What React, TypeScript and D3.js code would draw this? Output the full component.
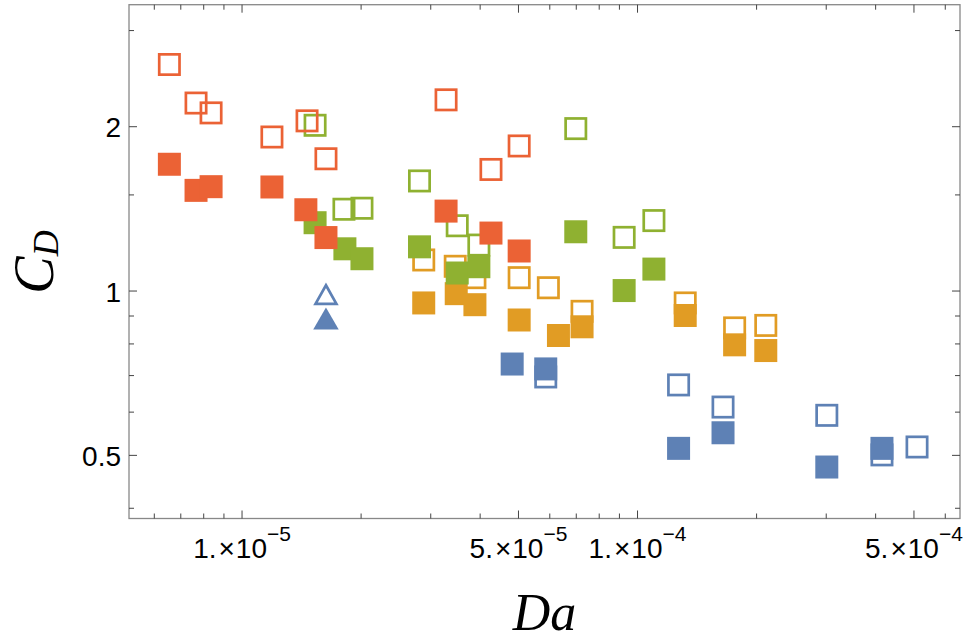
import React, { useRef, useEffect } from "react";
import * as d3 from "d3";

// Da, C_D pairs
const blueOpen = [
  [5.86e-5, 0.696], [1.27e-4, 0.673], [1.645e-4, 0.613],
  [3.01e-4, 0.592], [4.15e-4, 0.501], [5.09e-4, 0.518],
];
const blueFilled = [
  [4.82e-5, 0.735], [5.86e-5, 0.72], [1.27e-4, 0.515],
  [1.645e-4, 0.55], [3.01e-4, 0.476], [4.15e-4, 0.515],
];
const orangeOpen = [
  [2.88e-5, 1.14], [3.46e-5, 1.11], [3.88e-5, 1.058], [5.02e-5, 1.058],
  [5.95e-5, 1.014], [7.24e-5, 0.918], [1.32e-4, 0.951], [1.76e-4, 0.856],
  [2.11e-4, 0.865],
];
const orangeFilled = [
  [2.88e-5, 0.951], [3.48e-5, 0.989], [3.88e-5, 0.944], [5.02e-5, 0.885],
  [6.31e-5, 0.829], [7.24e-5, 0.86], [1.32e-4, 0.902], [1.76e-4, 0.797],
  [2.11e-4, 0.778],
];
const greenOpen = [
  [1.53e-5, 2.012], [1.81e-5, 1.412], [2.01e-5, 1.418], [2.81e-5, 1.591],
  [3.5e-5, 1.317], [3.97e-5, 1.214], [6.98e-5, 1.984], [9.25e-5, 1.254],
  [1.1e-4, 1.346],
];
const greenFilled = [
  [1.53e-5, 1.334], [1.82e-5, 1.195], [2.01e-5, 1.146], [2.81e-5, 1.205],
  [3.5e-5, 1.079], [3.97e-5, 1.108], [6.98e-5, 1.284], [9.25e-5, 1.002],
  [1.1e-4, 1.097],
];
const redOpen = [
  [6.55e-6, 2.6], [7.65e-6, 2.21], [8.35e-6, 2.12], [1.19e-5, 1.915],
  [1.46e-5, 2.05], [1.63e-5, 1.747], [3.28e-5, 2.24], [4.26e-5, 1.67],
  [5.02e-5, 1.844],
];
const redFilled = [
  [6.55e-6, 1.707], [7.65e-6, 1.529], [8.35e-6, 1.553], [1.19e-5, 1.551],
  [1.45e-5, 1.409], [1.63e-5, 1.253], [3.28e-5, 1.401], [4.26e-5, 1.277],
  [5.02e-5, 1.184],
];
const triOpen = [[1.63e-5, 0.987]];
const triFilled = [[1.63e-5, 0.891]];

// ticks
const xMajor = [1e-5, 5e-5, 1e-4, 5e-4];
const xMajorMant = ["1.", "5.", "1.", "5."];
const xMajorExp = ["\u22125", "\u22125", "\u22124", "\u22124"];
const xMinor = [6e-6, 7e-6, 8e-6, 9e-6, 2e-5, 3e-5, 4e-5, 6e-5, 7e-5, 8e-5, 9e-5, 2e-4, 3e-4, 4e-4, 6e-4];
const yMajor = [0.5, 1, 2];
const yMajorLabels = ["0.5", "1", "2"];
const yMinor = [0.4, 0.6, 0.7, 0.8, 0.9, 1.5, 3];

const BLUE = "#5E81B5";
const ORANGE = "#E19C24";
const GREEN = "#8FB131";
const RED = "#EB6235";

function App() {
  const svgRef = useRef(null);

  useEffect(() => {
    const svg = d3.select(svgRef.current);
    svg.selectAll("*").remove();

    const left = 129, right = 960, top = 4.7, bottom = 518.5;

    const x = d3.scaleLog().domain([5.178e-6, 6.537e-4]).range([left, right]);
    const y = d3.scaleLog().domain([0.3831, 3.346]).range([bottom, top]);

    const plot = svg.append("g");

    const sq = 23;
    const sw = 2.7;
    const drawSquares = (data, color, filled) => {
      plot
        .append("g")
        .selectAll("rect")
        .data(data)
        .enter()
        .append("rect")
        .attr("x", (d) => x(d[0]) - (filled ? sq / 2 : (sq - sw) / 2))
        .attr("y", (d) => y(d[1]) - (filled ? sq / 2 : (sq - sw) / 2))
        .attr("width", filled ? sq : sq - sw)
        .attr("height", filled ? sq : sq - sw)
        .attr("fill", filled ? color : "none")
        .attr("stroke", filled ? "none" : color)
        .attr("stroke-width", sw);
    };

    const triW = 25.5, triH = 22;
    const triPath = (cx, cy, w, h) =>
      `M${cx},${cy - h / 2}L${cx + w / 2},${cy + h / 2}L${cx - w / 2},${cy + h / 2}Z`;
    const drawTriangles = (data, color, filled) => {
      plot
        .append("g")
        .selectAll("path")
        .data(data)
        .enter()
        .append("path")
        .attr("d", (d) =>
          filled
            ? triPath(x(d[0]), y(d[1]), triW, triH)
            : triPath(x(d[0]), y(d[1]) + 0.4, triW - 4.6, triH - 3.4)
        )
        .attr("fill", filled ? color : "none")
        .attr("stroke", filled ? "none" : color)
        .attr("stroke-width", sw)
        .attr("stroke-linejoin", "miter");
    };

    drawSquares(blueOpen, BLUE, false);
    drawSquares(blueFilled, BLUE, true);
    drawTriangles(triOpen, BLUE, false);
    drawTriangles(triFilled, BLUE, true);
    drawSquares(orangeOpen, ORANGE, false);
    drawSquares(orangeFilled, ORANGE, true);
    drawSquares(greenOpen, GREEN, false);
    drawSquares(greenFilled, GREEN, true);
    drawSquares(redOpen, RED, false);
    drawSquares(redFilled, RED, true);

    // frame
    svg
      .append("rect")
      .attr("x", left)
      .attr("y", top)
      .attr("width", right - left)
      .attr("height", bottom - top)
      .attr("fill", "none")
      .attr("stroke", "#888")
      .attr("stroke-width", 1.3);

    const tickColor = "#444";
    const ticks = svg.append("g").attr("stroke", tickColor).attr("stroke-width", 1);
    const major = 8, minor = 5;

    const xTicks = [...xMajor.map((v) => [v, major]), ...xMinor.map((v) => [v, minor])];
    xTicks.forEach(([v, len]) => {
      const px = x(v);
      ticks.append("line").attr("x1", px).attr("x2", px).attr("y1", bottom).attr("y2", bottom - len);
      ticks.append("line").attr("x1", px).attr("x2", px).attr("y1", top).attr("y2", top + len);
    });
    const yTicks = [...yMajor.map((v) => [v, major]), ...yMinor.map((v) => [v, minor])];
    yTicks.forEach(([v, len]) => {
      const py = y(v);
      ticks.append("line").attr("x1", left).attr("x2", left + len).attr("y1", py).attr("y2", py);
      ticks.append("line").attr("x1", right).attr("x2", right - len).attr("y1", py).attr("y2", py);
    });

    // x tick labels
    xMajor.forEach((v, i) => {
      const t = svg
        .append("text")
        .attr("x", x(v))
        .attr("y", 557.5)
        .attr("text-anchor", "middle")
        .style("font-family", "'Liberation Sans', Arial, sans-serif")
        .style("font-size", "28px")
        .attr("fill", "#000");
      t.append("tspan").text(xMajorMant[i]);
      t.append("tspan").attr("dx", 2).text("\u00D7");
      t.append("tspan").attr("dx", 1).text("10");
      t.append("tspan").attr("dy", -17).style("font-size", "21px").text(xMajorExp[i]);
    });

    // y tick labels
    yMajor.forEach((v, i) => {
      svg
        .append("text")
        .attr("x", 121)
        .attr("y", y(v) + 10.5)
        .attr("text-anchor", "end")
        .style("font-family", "'Liberation Sans', Arial, sans-serif")
        .style("font-size", "28px")
        .attr("fill", "#000")
        .text(yMajorLabels[i]);
    });

    // axis titles
    svg
      .append("text")
      .attr("x", (left + right) / 2)
      .attr("y", 630)
      .attr("text-anchor", "middle")
      .style("font-family", "'Liberation Serif', 'Times New Roman', serif")
      .style("font-style", "italic")
      .style("font-size", "52px")
      .attr("fill", "#000")
      .text("Da");

    const cd = svg
      .append("text")
      .attr("transform", `translate(53,262) rotate(-90)`)
      .attr("text-anchor", "middle")
      .style("font-family", "'Liberation Serif', 'Times New Roman', serif")
      .style("font-style", "italic")
      .style("font-size", "56px")
      .attr("fill", "#000");
    cd.append("tspan").text("C");
    cd.append("tspan").attr("dy", 5).style("font-size", "36px").text("D");
  }, []);

  return (
    <svg
      ref={svgRef}
      width={971}
      height={642}
      style={{ position: "absolute", left: 0, top: 0, background: "#fff" }}
    ></svg>
  );
}

export default App;
